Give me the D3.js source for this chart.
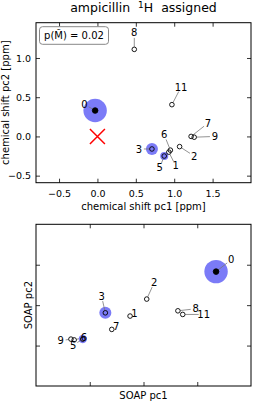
<!DOCTYPE html>
<html>
<head>
<meta charset="utf-8">
<script src="https://cdn.jsdelivr.net/npm/d3@7"></script>
<style>
  body { margin: 0; background: #fff; }
  text { font-family: "DejaVu Sans", sans-serif; fill: #000; }
</style>
</head>
<body>
<div id="chart"></div>
<script>
// atom labels, same order in both panels
const atomIds = ["0", "1", "2", "3", "5", "6", "7", "8", "9", "11"];
// assignment weights (blue halos)
const weights = [0.72, 0, 0, 0.19, 0.085, 0, 0, 0, 0, 0];

// top panel: chemical shift pcs
const csX = [-0.03, 0.93, 1.07, 0.71, 0.87, 0.95, 1.22, 0.48, 1.26, 0.97];
const csY = [0.33, -0.20, -0.13, -0.16, -0.25, -0.175, 0.0, 1.11, -0.01, 0.405];
const csLabelX = [-0.17, 1.02, 1.26, 0.54, 0.81, 0.87, 1.44, 0.48, 1.53, 1.09];
const csLabelY = [0.41, -0.375, -0.25, -0.16, -0.40, 0.02, 0.17, 1.32, 0.0, 0.63];
const csTicksX = [-0.5, 0.0, 0.5, 1.0, 1.5];
const csTicksY = [-0.5, 0.0, 0.5, 1.0];
const target = [0, 0];

// bottom panel: SOAP pcs
const soapX = [3.35, 1.75, 2.06, 1.29, 0.87, 0.71, 1.41, 2.64, 0.65, 2.73];
const soapY = [2.83, 1.73, 2.15, 1.81, 1.16, 1.14, 1.40, 1.86, 1.16, 1.77];
const soapLabelX = [3.63, 1.83, 2.20, 1.22, 0.69, 0.89, 1.49, 2.97, 0.46, 3.12];
const soapLabelY = [3.12, 1.80, 2.56, 2.22, 1.01, 1.20, 1.47, 1.91, 1.12, 1.77];
const soapTicks = [1, 2, 3];

const W = 262, H = 401;
const blue = "#7b7bf7";

const svg = d3.select("#chart").append("svg")
  .attr("width", W).attr("height", H);

svg.append("text")
  .attr("x", 143.5).attr("y", 11.5)
  .attr("text-anchor", "middle")
  .attr("xml:space", "preserve")
  .style("font-size", "12.5px")
  .html('ampicillin\u00a0\u00a0<tspan dy="-4" font-size="9px">1</tspan><tspan dy="4">H\u00a0\u00a0assigned</tspan>');

const halo = d3.scaleSqrt().domain([0, 1]).range([0, 13.8]);

function panel(opts) {
  const g = svg.append("g");
  const x = d3.scaleLinear().domain(opts.xDomain).range([opts.left, opts.right]);
  const y = d3.scaleLinear().domain(opts.yDomain).range([opts.bottom, opts.top]);
  const fmt = opts.showLabels ? d3.format(".1f") : () => "";

  // axes with inward ticks on all sides
  g.append("g").attr("transform", `translate(0,${opts.bottom})`)
    .call(d3.axisBottom(x).tickValues(opts.xTicks).tickSize(-4).tickPadding(8).tickFormat(fmt));
  g.append("g").attr("transform", `translate(0,${opts.top})`)
    .call(d3.axisTop(x).tickValues(opts.xTicks).tickSize(-4).tickFormat(""));
  g.append("g").attr("transform", `translate(${opts.left},0)`)
    .call(d3.axisLeft(y).tickValues(opts.yTicks).tickSize(-4).tickPadding(5).tickFormat(fmt));
  g.append("g").attr("transform", `translate(${opts.right},0)`)
    .call(d3.axisRight(y).tickValues(opts.yTicks).tickSize(-4).tickFormat(""));
  g.selectAll(".domain").remove();
  g.selectAll(".tick line").attr("stroke", "#000").attr("stroke-width", 0.8);
  g.selectAll(".tick text").style("font-size", "9.5px").attr("font-family", "DejaVu Sans");

  g.append("rect")
    .attr("x", opts.left).attr("y", opts.top)
    .attr("width", opts.right - opts.left).attr("height", opts.bottom - opts.top)
    .attr("fill", "none").attr("stroke", "#000").attr("stroke-width", 1);

  const pts = atomIds.map((id, i) => ({
    id, w: weights[i], x: opts.xs[i], y: opts.ys[i], lx: opts.lxs[i], ly: opts.lys[i]
  }));

  g.selectAll("circle.halo").data(pts.filter(d => d.w > 0)).enter()
    .append("circle").attr("class", "halo")
    .attr("cx", d => x(d.x)).attr("cy", d => y(d.y))
    .attr("r", d => halo(d.w))
    .attr("fill", blue);

  if (opts.target) {
    const cx = x(opts.target[0]), cy = y(opts.target[1]), s = 7.5;
    g.append("path")
      .attr("d", `M${cx - s},${cy - s}L${cx + s},${cy + s}M${cx - s},${cy + s}L${cx + s},${cy - s}`)
      .attr("stroke", "red").attr("stroke-width", 1.5);
  }

  // leader lines, trimmed at both ends
  function seg(d) {
    const x1 = x(d.lx), y1 = y(d.ly), x2 = x(d.x), y2 = y(d.y);
    const len = Math.hypot(x2 - x1, y2 - y1) || 1;
    const a = Math.min(5, len / 2), b = 2.5;
    return {
      x1: x1 + (x2 - x1) * a / len, y1: y1 + (y2 - y1) * a / len,
      x2: x2 - (x2 - x1) * b / len, y2: y2 - (y2 - y1) * b / len,
      len
    };
  }
  g.selectAll("line.leader").data(pts.filter(d => seg(d).len > 8)).enter()
    .append("line").attr("class", "leader")
    .attr("x1", d => seg(d).x1).attr("y1", d => seg(d).y1)
    .attr("x2", d => seg(d).x2).attr("y2", d => seg(d).y2)
    .attr("stroke", "#777").attr("stroke-width", 0.8);

  g.selectAll("text.lbl").data(pts).enter()
    .append("text").attr("class", "lbl")
    .attr("x", d => x(d.lx)).attr("y", d => y(d.ly))
    .attr("text-anchor", "middle").attr("dy", "0.36em")
    .style("font-size", "10px")
    .text(d => d.id);

  g.selectAll("circle.pt").data(pts).enter()
    .append("circle").attr("class", "pt")
    .attr("cx", d => x(d.x)).attr("cy", d => y(d.y))
    .attr("r", d => d.w > 0.5 ? 2.8 : 2.3)
    .attr("fill", d => d.w > 0.5 ? "#000" : "none")
    .attr("stroke", "#000").attr("stroke-width", 0.9);

  const cxm = (opts.left + opts.right) / 2;
  g.append("text")
    .attr("x", cxm).attr("y", opts.bottom + opts.xTitleGap)
    .attr("text-anchor", "middle").style("font-size", "10px")
    .text(opts.xTitle);
  g.append("text")
    .attr("transform", `translate(${opts.left - opts.yTitleGap},${(opts.top + opts.bottom) / 2}) rotate(-90)`)
    .attr("text-anchor", "middle").style("font-size", "10px")
    .text(opts.yTitle);
  return g;
}

const topPanel = panel({
  left: 36, right: 251, top: 22.7, bottom: 182.7,
  xDomain: [-0.8, 2.0], yDomain: [-0.59, 1.45],
  xTicks: csTicksX, yTicks: csTicksY, showLabels: true,
  xs: csX, ys: csY, lxs: csLabelX, lys: csLabelY, target: target,
  xTitle: "chemical shift pc1 [ppm]", yTitle: "chemical shift pc2 [ppm]",
  xTitleGap: 27, yTitleGap: 27.5
});

// p(M) box
topPanel.append("rect")
  .attr("x", 39.5).attr("y", 26.7).attr("width", 69).attr("height", 17.6)
  .attr("rx", 3).attr("fill", "#fff").attr("stroke", "#888").attr("stroke-width", 1);
topPanel.append("text")
  .attr("x", 74).attr("y", 35.5).attr("dy", "0.36em")
  .attr("text-anchor", "middle").style("font-size", "10px")
  .text("p(M\u0303) = 0.02");

panel({
  left: 36, right: 251, top: 224.3, bottom: 386,
  xDomain: [0, 4], yDomain: [0, 4],
  xTicks: soapTicks, yTicks: soapTicks, showLabels: false,
  xs: soapX, ys: soapY, lxs: soapLabelX, lys: soapLabelY,
  xTitle: "SOAP pc1", yTitle: "SOAP pc2",
  xTitleGap: 12.5, yTitleGap: 4
});
</script>
</body>
</html>
